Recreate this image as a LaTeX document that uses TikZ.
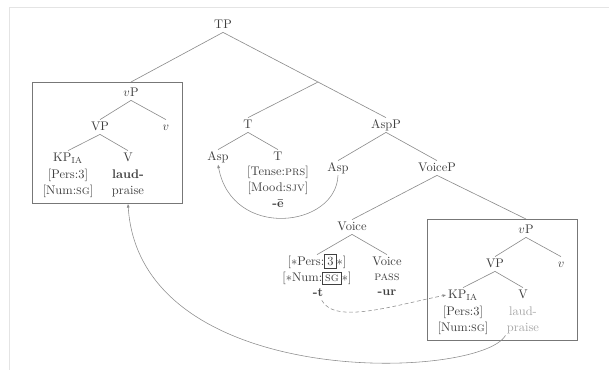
\documentclass[tikz,border=0pt]{standalone}
\usetikzlibrary{arrows.meta}
\definecolor{txt}{HTML}{404040}
\definecolor{ln}{HTML}{8C8C8C}
\definecolor{lt}{HTML}{A6A6A6}
\definecolor{frm}{HTML}{E4E4E4}
\begin{document}
\begin{tikzpicture}[x=0.8pt,y=-0.8pt,
  lab/.style={text=txt,inner sep=1.2pt,text height=7pt,text depth=2pt,font=\fontsize{10}{12}\selectfont},
  light/.style={lab,text=lt},
  br/.style={draw=ln,line width=0.5pt},
  tbox/.style={draw=ln!85!black,line width=0.6pt,inner sep=0pt,minimum width=120pt,minimum height=96.8pt,anchor=north west},
  mv/.style={draw=ln,line width=0.45pt,-{Latex[length=3pt,width=2.4pt]}}]
\useasboundingbox (0,0) rectangle (609,370);
\fboxsep=2pt
\draw[frm,line width=0.4pt] (9,7) -- (609,7);
\draw[frm,line width=0.4pt] (9,7) -- (9,370);

% top of tree
\node[lab] (TP) at (223,25) {TP};
\coordinate (tbar) at (318,82);
\node[lab] (T) at (248,125) {T};
\node[lab] (AspP) at (386,125) {AspP};
\node[lab] (AspA) at (218,157) {Asp};
\node[lab] (TT) at (278,157) {T};
\node[lab] (Tense) at (278,172) {[Tense:\textsc{prs}]};
\node[lab] (Mood) at (278,188) {[Mood:\textsc{sjv}]};
\node[lab] (ebar) at (278,204) {\textbf{-\=e}};
\node[lab] (AspB) at (338,168) {Asp};
\node[lab] (VoiceP) at (437,168) {VoiceP};
\node[lab] (Voice) at (352,227) {Voice};
\node[lab] (Pers) at (317,262) {[$\ast$Pers:\fbox{3}$\ast$]};
\node[lab] (Num) at (317,278) {[$\ast$Num:\fbox{\textsc{sg}}$\ast$]};
\node[lab] (tt) at (318,293) {\textbf{-t}};
\node[lab] (VoiceH) at (387,262) {Voice};
\node[lab] (pass) at (387,277) {\textsc{pass}};
\node[lab] (ur) at (387,292) {\textbf{-ur}};

% left box
\node[tbox] (lbox) at (32,82) {};
\node[lab] (lvP) at (131,93) {$v$P};
\node[lab] (lVP) at (100,127) {VP};
\node[lab] (lv) at (166,127) {$v$};
\node[lab] (lKP) at (68,158) {KP\textsubscript{IA}};
\node[lab] (lV) at (128,158) {V};
\node[lab] (lPers) at (68,175) {[Pers:3]};
\node[lab] (lNum) at (68,191) {[Num:\textsc{sg}]};
\node[lab] (llaud) at (128,175) {\textbf{laud-}};
\node[lab] (lpraise) at (128,191) {praise};

% right box
\node[tbox] (rbox) at (427,219) {};
\node[lab] (rvP) at (526,230) {$v$P};
\node[lab] (rVP) at (495,264) {VP};
\node[lab] (rv) at (561,264) {$v$};
\node[lab] (rKP) at (463,295) {KP\textsubscript{IA}};
\node[lab] (rV) at (523,295) {V};
\node[lab] (rPers) at (463,312) {[Pers:3]};
\node[lab] (rNum) at (463,328) {[Num:\textsc{sg}]};
\node[light] (rlaud) at (523,312) {laud-};
\node[light] (rpraise) at (523,328) {praise};

% branches
\draw[br] (TP.south) -- (lbox.north -| lvP);
\draw[br] (TP.south) -- (tbar) -- (T.north);
\draw[br] (tbar) -- (AspP.north);
\draw[br] (T.south) -- (AspA.north);
\draw[br] (T.south) -- (TT.north);
\draw[br] (AspP.south) -- (AspB.north);
\draw[br] (AspP.south) -- (VoiceP.north);
\draw[br] (VoiceP.south) -- (Voice.north);
\draw[br] (VoiceP.south) -- (rbox.north -| rvP);
\draw[br] (Voice.south) -- (Pers.north);
\draw[br] (Voice.south) -- (VoiceH.north);
\draw[br] (lvP.south) -- (lVP.north);
\draw[br] (lvP.south) -- (lv.north);
\draw[br] (lVP.south) -- (lKP.north);
\draw[br] (lVP.south) -- (lV.north);
\draw[br] (rvP.south) -- (rVP.north);
\draw[br] (rvP.south) -- (rv.north);
\draw[br] (rVP.south) -- (rKP.north);
\draw[br] (rVP.south) -- (rV.north);

% movement arrows
\draw[mv] (AspB.south) .. controls (336,228) and (232,240) .. (AspA.south);
\draw[mv] ([xshift=-14pt]rpraise.south) .. controls (480,380) and (140,392) .. (lbox.south -| lpraise);
\draw[mv,dashed,dash pattern=on 3pt off 2pt] ([xshift=3pt]tt.south) .. controls (335,325) and (395,305) .. (rKP.west);
\end{tikzpicture}
\end{document}
